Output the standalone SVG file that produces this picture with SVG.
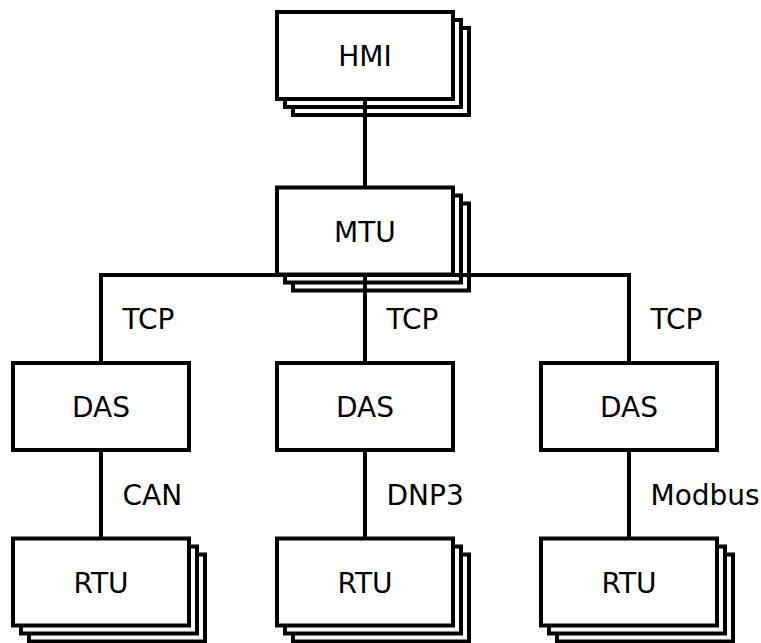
<svg xmlns="http://www.w3.org/2000/svg" width="761" height="643" viewBox="0 0 761 643">
  <style>
    .box { fill: #ffffff; stroke: #000000; stroke-width: 4; }
    .wire { fill: none; stroke: #000000; stroke-width: 4; }
    .name { font-family: "DejaVu Sans", "Liberation Sans", sans-serif; font-size: 28px; text-anchor: middle; fill: #000000; }
    .proto { font-family: "DejaVu Sans", "Liberation Sans", sans-serif; font-size: 28px; fill: #000000; }
  </style>
  <defs>
    <!-- three stacked cards, front card at (0,0) -->
    <g id="stack">
      <rect class="box" x="16" y="16" width="176" height="87"/>
      <rect class="box" x="8" y="8" width="176" height="87"/>
      <rect class="box" x="0" y="0" width="176" height="87"/>
    </g>
    <rect id="single" class="box" x="0" y="0" width="176" height="87"/>
  </defs>

  <g id="node-hmi">
    <use href="#stack" x="277" y="12"/>
    <text class="name" x="365" y="66">HMI</text>
  </g>
  <g id="node-mtu">
    <use href="#stack" x="277" y="187.5"/>
    <text class="name" x="365" y="241.5">MTU</text>
  </g>
  <g id="node-das-1">
    <use href="#single" x="13" y="363"/>
    <text class="name" x="101" y="417">DAS</text>
  </g>
  <g id="node-das-2">
    <use href="#single" x="277" y="363"/>
    <text class="name" x="365" y="417">DAS</text>
  </g>
  <g id="node-das-3">
    <use href="#single" x="541" y="363"/>
    <text class="name" x="629" y="417">DAS</text>
  </g>
  <g id="node-rtu-1">
    <use href="#stack" x="13" y="538.5"/>
    <text class="name" x="101" y="592.5">RTU</text>
  </g>
  <g id="node-rtu-2">
    <use href="#stack" x="277" y="538.5"/>
    <text class="name" x="365" y="592.5">RTU</text>
  </g>
  <g id="node-rtu-3">
    <use href="#stack" x="541" y="538.5"/>
    <text class="name" x="629" y="592.5">RTU</text>
  </g>

  <g id="connectors">
    <path class="wire" d="M365 99 V187.5"/>
    <path class="wire" d="M101 363 V275 H629 V363"/>
    <path class="wire" d="M365 275 V363"/>
    <path class="wire" d="M101 450 V538.5"/>
    <path class="wire" d="M365 450 V538.5"/>
    <path class="wire" d="M629 450 V538.5"/>
    <text class="proto" x="122.5" y="329">TCP</text>
    <text class="proto" x="386.5" y="329">TCP</text>
    <text class="proto" x="650.5" y="329">TCP</text>
    <text class="proto" x="122.5" y="504.5">CAN</text>
    <text class="proto" x="386.5" y="504.5">DNP3</text>
    <text class="proto" x="650.5" y="504.5">Modbus</text>
  </g>
</svg>
